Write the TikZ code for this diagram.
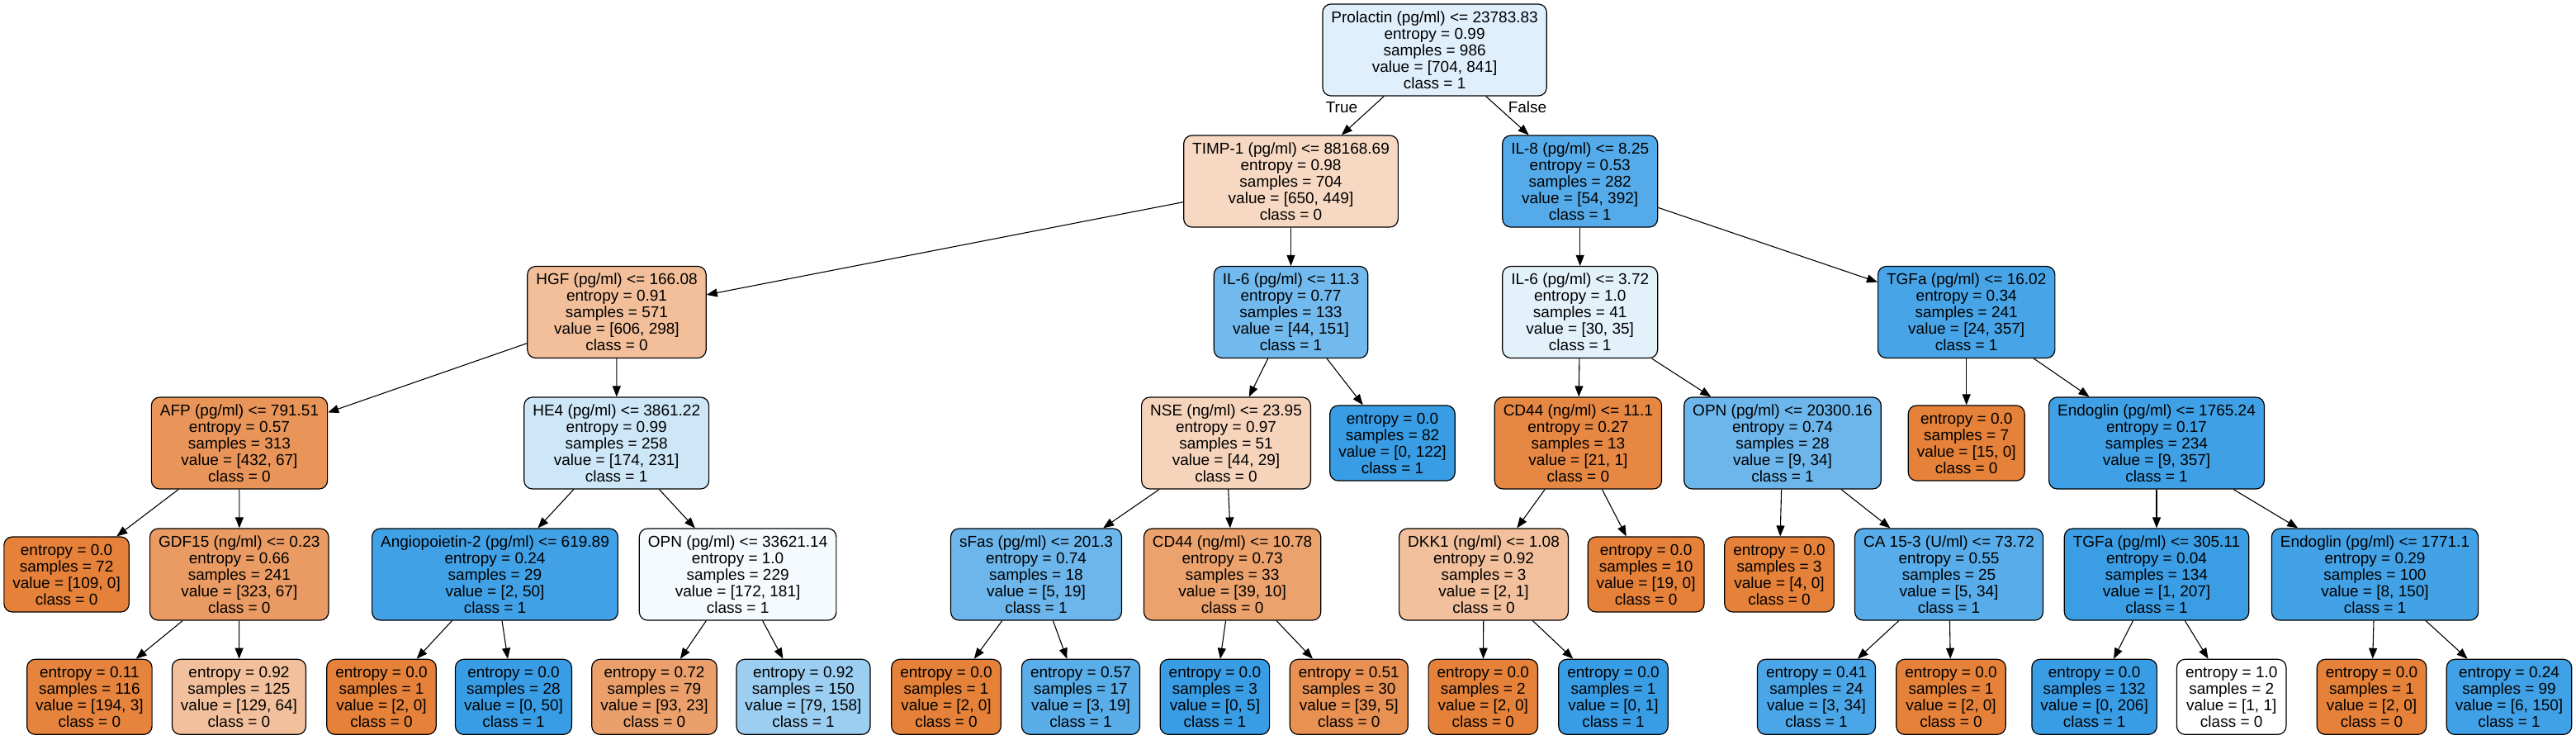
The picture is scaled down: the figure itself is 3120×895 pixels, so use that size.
\documentclass[tikz,border=0pt]{standalone}
\usepackage{fontspec}
\setmainfont{Liberation Sans}
\usetikzlibrary{arrows.meta}
\definecolor{cls0}{HTML}{E58139}
\definecolor{cls1}{HTML}{399DE5}

\begin{document}
\begin{tikzpicture}[x=1pt,y=-1pt,
	tnode/.style={draw=black,line width=1.2pt,rounded corners=10pt,align=center,inner xsep=10.5pt,inner ysep=0pt,minimum height=111pt,font=\fontsize{19}{20}\selectfont},
	tleaf/.style={tnode,minimum height=91pt},
	treeedge/.style={-{Triangle[length=13pt,width=10pt]},line width=1.1pt},
	blabel/.style={font=\fontsize{19}{20}\selectfont}]
	\useasboundingbox (0,0) rectangle (3120,895);
	
	% level 0 and 1
	\node[tnode,fill=cls1!16!white] (root) at (1737.6,60.5) {Prolactin (pg/ml) <= 23783.83\\entropy = 0.99\\samples = 986\\value = [704, 841]\\class = 1};
	\node[tnode,fill=cls0!31!white] (timp) at (1563.5,219.5) {TIMP-1 (pg/ml) <= 88168.69\\entropy = 0.98\\samples = 704\\value = [650, 449]\\class = 0};
	\node[tnode,fill=cls1!86!white] (ileight) at (1913.7,219.5) {IL-8 (pg/ml) <= 8.25\\entropy = 0.53\\samples = 282\\value = [54, 392]\\class = 1};
	
	% level 2
	\node[tnode,fill=cls0!51!white] (hgf) at (747,378) {HGF (pg/ml) <= 166.08\\entropy = 0.91\\samples = 571\\value = [606, 298]\\class = 0};
	\node[tnode,fill=cls1!71!white] (ilsixa) at (1563.5,378) {IL-6 (pg/ml) <= 11.3\\entropy = 0.77\\samples = 133\\value = [44, 151]\\class = 1};
	\node[tnode,fill=cls1!14!white] (ilsixb) at (1913.7,378) {IL-6 (pg/ml) <= 3.72\\entropy = 1.0\\samples = 41\\value = [30, 35]\\class = 1};
	\node[tnode,fill=cls1!93!white] (tgfa) at (2381.7,378) {TGFa (pg/ml) <= 16.02\\entropy = 0.34\\samples = 241\\value = [24, 357]\\class = 1};
	
	% level 3
	\node[tnode,fill=cls0!84!white] (afp) at (290,536.5) {AFP (pg/ml) <= 791.51\\entropy = 0.57\\samples = 313\\value = [432, 67]\\class = 0};
	\node[tnode,fill=cls1!25!white] (hefour) at (746.7,536.5) {HE4 (pg/ml) <= 3861.22\\entropy = 0.99\\samples = 258\\value = [174, 231]\\class = 1};
	\node[tnode,fill=cls0!34!white] (nse) at (1485,536.5) {NSE (ng/ml) <= 23.95\\entropy = 0.97\\samples = 51\\value = [44, 29]\\class = 0};
	\node[tleaf,fill=cls1] (lfa) at (1686.5,536.5) {entropy = 0.0\\samples = 82\\value = [0, 122]\\class = 1};
	\node[tnode,fill=cls0!95!white] (cdfa) at (1911.4,536.5) {CD44 (ng/ml) <= 11.1\\entropy = 0.27\\samples = 13\\value = [21, 1]\\class = 0};
	\node[tnode,fill=cls1!74!white] (opna) at (2159,536.5) {OPN (pg/ml) <= 20300.16\\entropy = 0.74\\samples = 28\\value = [9, 34]\\class = 1};
	\node[tleaf,fill=cls0] (lfb) at (2381.7,536.5) {entropy = 0.0\\samples = 7\\value = [15, 0]\\class = 0};
	\node[tnode,fill=cls1!97!white] (endoa) at (2612,536.5) {Endoglin (pg/ml) <= 1765.24\\entropy = 0.17\\samples = 234\\value = [9, 357]\\class = 1};
	
	% level 4
	\node[tleaf,fill=cls0] (lfc) at (80.6,695.5) {entropy = 0.0\\samples = 72\\value = [109, 0]\\class = 0};
	\node[tnode,fill=cls0!79!white] (gdf) at (289.8,695.5) {GDF15 (ng/ml) <= 0.23\\entropy = 0.66\\samples = 241\\value = [323, 67]\\class = 0};
	\node[tnode,fill=cls1!96!white] (ang) at (599.5,695.5) {Angiopoietin-2 (pg/ml) <= 619.89\\entropy = 0.24\\samples = 29\\value = [2, 50]\\class = 1};
	\node[tnode,fill=cls1!5!white] (opnb) at (893.6,695.5) {OPN (pg/ml) <= 33621.14\\entropy = 1.0\\samples = 229\\value = [172, 181]\\class = 1};
	\node[tnode,fill=cls1!74!white] (sfas) at (1255,695.5) {sFas (pg/ml) <= 201.3\\entropy = 0.74\\samples = 18\\value = [5, 19]\\class = 1};
	\node[tnode,fill=cls0!74!white] (cdfb) at (1492.6,695.5) {CD44 (ng/ml) <= 10.78\\entropy = 0.73\\samples = 33\\value = [39, 10]\\class = 0};
	\node[tnode,fill=cls0!50!white] (dkk) at (1797,695.5) {DKK1 (ng/ml) <= 1.08\\entropy = 0.92\\samples = 3\\value = [2, 1]\\class = 0};
	\node[tleaf,fill=cls0] (lfd) at (1993.6,695.5) {entropy = 0.0\\samples = 10\\value = [19, 0]\\class = 0};
	\node[tleaf,fill=cls0] (lfe) at (2155,695.5) {entropy = 0.0\\samples = 3\\value = [4, 0]\\class = 0};
	\node[tnode,fill=cls1!85!white] (ca) at (2360.5,695.5) {CA 15-3 (U/ml) <= 73.72\\entropy = 0.55\\samples = 25\\value = [5, 34]\\class = 1};
	\node[tnode,fill=cls1!99!white] (tgfb) at (2612,695.5) {TGFa (pg/ml) <= 305.11\\entropy = 0.04\\samples = 134\\value = [1, 207]\\class = 1};
	\node[tnode,fill=cls1!95!white] (endob) at (2876.5,695.5) {Endoglin (pg/ml) <= 1771.1\\entropy = 0.29\\samples = 100\\value = [8, 150]\\class = 1};
	
	% level 5
	\node[tleaf,fill=cls0!98!white] (l1) at (108.4,843.8) {entropy = 0.11\\samples = 116\\value = [194, 3]\\class = 0};
	\node[tleaf,fill=cls0!50!white] (l2) at (289.5,843.8) {entropy = 0.92\\samples = 125\\value = [129, 64]\\class = 0};
	\node[tleaf,fill=cls0] (l3) at (462,843.8) {entropy = 0.0\\samples = 1\\value = [2, 0]\\class = 0};
	\node[tleaf,fill=cls1] (l4) at (622,843.8) {entropy = 0.0\\samples = 28\\value = [0, 50]\\class = 1};
	\node[tleaf,fill=cls0!75!white] (l5) at (792.5,843.8) {entropy = 0.72\\samples = 79\\value = [93, 23]\\class = 0};
	\node[tleaf,fill=cls1!50!white] (l6) at (973,843.8) {entropy = 0.92\\samples = 150\\value = [79, 158]\\class = 1};
	\node[tleaf,fill=cls0] (l7) at (1146,843.8) {entropy = 0.0\\samples = 1\\value = [2, 0]\\class = 0};
	\node[tleaf,fill=cls1!84!white] (l8) at (1309,843.8) {entropy = 0.57\\samples = 17\\value = [3, 19]\\class = 1};
	\node[tleaf,fill=cls1] (l9) at (1471.4,843.8) {entropy = 0.0\\samples = 3\\value = [0, 5]\\class = 1};
	\node[tleaf,fill=cls0!87!white] (l10) at (1633.8,843.8) {entropy = 0.51\\samples = 30\\value = [39, 5]\\class = 0};
	\node[tleaf,fill=cls0] (l11) at (1796.3,843.8) {entropy = 0.0\\samples = 2\\value = [2, 0]\\class = 0};
	\node[tleaf,fill=cls1] (l12) at (1954,843.8) {entropy = 0.0\\samples = 1\\value = [0, 1]\\class = 1};
	\node[tleaf,fill=cls1!91!white] (l13) at (2200,843.8) {entropy = 0.41\\samples = 24\\value = [3, 34]\\class = 1};
	\node[tleaf,fill=cls0] (l14) at (2363,843.8) {entropy = 0.0\\samples = 1\\value = [2, 0]\\class = 0};
	\node[tleaf,fill=cls1] (l15) at (2536.6,843.8) {entropy = 0.0\\samples = 132\\value = [0, 206]\\class = 1};
	\node[tleaf,fill=white] (l16) at (2702.7,843.8) {entropy = 1.0\\samples = 2\\value = [1, 1]\\class = 0};
	\node[tleaf,fill=cls0] (l17) at (2872.5,843.8) {entropy = 0.0\\samples = 1\\value = [2, 0]\\class = 0};
	\node[tleaf,fill=cls1!96!white] (l18) at (3039,843.8) {entropy = 0.24\\samples = 99\\value = [6, 150]\\class = 1};
	
	% edges
	\foreach \a/\b in {root/timp,root/ileight,timp/hgf,timp/ilsixa,ileight/ilsixb,ileight/tgfa,
		hgf/afp,hgf/hefour,ilsixa/nse,ilsixa/lfa,ilsixb/cdfa,ilsixb/opna,tgfa/lfb,tgfa/endoa,
		afp/lfc,afp/gdf,hefour/ang,hefour/opnb,nse/sfas,nse/cdfb,cdfa/dkk,cdfa/lfd,opna/lfe,opna/ca,endoa/tgfb,endoa/endob,
		gdf/l1,gdf/l2,ang/l3,ang/l4,opnb/l5,opnb/l6,sfas/l7,sfas/l8,cdfb/l9,cdfb/l10,dkk/l11,dkk/l12,ca/l13,ca/l14,tgfb/l15,tgfb/l16,endob/l17,endob/l18}
	\draw[treeedge] (\a) -- (\b);
	
	\node[blabel] (lbltrue) at (1625,130) {True};
	\node[blabel] (lblfalse) at (1850,130) {False};
\end{tikzpicture}
\end{document}
